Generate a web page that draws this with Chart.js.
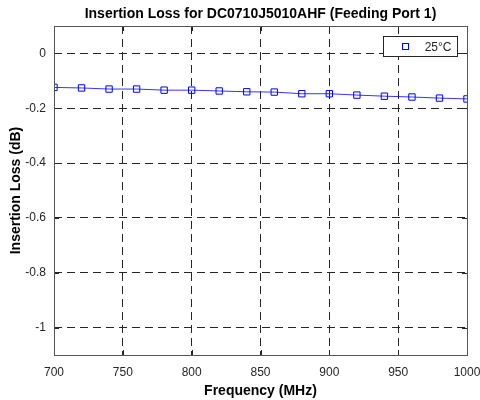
<!DOCTYPE html>
<html>
<head>
<meta charset="utf-8">
<script src="https://cdn.jsdelivr.net/npm/chart.js@4"></script>
<style>
  html, body { margin: 0; padding: 0; background: #fff; }
  #wrap { width: 480px; height: 400px; }
</style>
</head>
<body>
<div id="wrap"><canvas id="chart" width="480" height="400"></canvas></div>
<script>
// data
const freqs = [700, 720, 740, 760, 780, 800, 820, 840, 860, 880, 900, 920, 940, 960, 980, 1000];
const loss25 = [-0.124, -0.126, -0.130, -0.130, -0.134, -0.134, -0.137, -0.140, -0.141, -0.147, -0.147, -0.152, -0.156, -0.159, -0.163, -0.166];
const xTicks = [700, 750, 800, 850, 900, 950, 1000];
const yTicks = [0, -0.2, -0.4, -0.6, -0.8, -1];
const chartTitle = "Insertion Loss for DC0710J5010AHF (Feeding Port 1)";

const FONT = "'Liberation Sans', Arial, sans-serif";
const TEXT = "#262626";

// box around the plot + inward tick marks + legend box + title (MATLAB look)
const boxPlugin = {
  id: "box",
  afterDatasetsDraw(chart) {
    const { ctx, chartArea: a, scales } = chart;
    ctx.save();
    ctx.strokeStyle = "#262626";
    ctx.lineWidth = 1;
    ctx.setLineDash([]);
    ctx.beginPath();
    scales.x.ticks.forEach((t) => {
      const px = Math.round(scales.x.getPixelForValue(t.value)) + 0.5;
      ctx.moveTo(px, a.bottom); ctx.lineTo(px, a.bottom - 5);
      ctx.moveTo(px, a.top); ctx.lineTo(px, a.top + 5);
    });
    scales.y.ticks.forEach((t) => {
      const py = Math.round(scales.y.getPixelForValue(t.value)) + 0.5;
      ctx.moveTo(a.left, py); ctx.lineTo(a.left + 5, py);
      ctx.moveTo(a.right, py); ctx.lineTo(a.right - 5, py);
    });
    ctx.stroke();
    ctx.strokeStyle = "#555";
    ctx.strokeRect(Math.round(a.left) + 0.5, Math.round(a.top) + 0.5,
      Math.round(a.right - a.left), Math.round(a.bottom - a.top));

    // legend
    const ds = chart.data.datasets[0];
    const w = 74, h = 20;
    const lx = Math.round(a.right) - 10 - w + 0.5, ly = Math.round(a.top) + 10 + 0.5;
    ctx.fillStyle = "#fff";
    ctx.fillRect(lx, ly, w, h);
    ctx.strokeStyle = "#262626";
    ctx.strokeRect(lx, ly, w, h);
    ctx.strokeStyle = ds.borderColor;
    ctx.strokeRect(lx + 19, ly + 7, 6, 6);
    ctx.fillStyle = TEXT;
    ctx.font = "12px " + FONT;
    ctx.textAlign = "right";
    ctx.textBaseline = "middle";
    ctx.fillText(ds.label, lx + w - 6, ly + h / 2 + 1);

    // title centred over the plot box
    ctx.fillStyle = "#000";
    ctx.font = "bold 14px " + FONT;
    ctx.textAlign = "center";
    ctx.fillText(chartTitle, (a.left + a.right) / 2, 14);
    ctx.restore();
  }
};

new Chart(document.getElementById("chart"), {
  type: "line",
  data: {
    datasets: [{
      label: "25°C",
      data: freqs.map((f, i) => ({ x: f, y: loss25[i] })),
      borderColor: "#0000ff",
      backgroundColor: "rgba(0,0,0,0)",
      borderWidth: 0.8,
      pointStyle: "rect",
      pointRadius: 4.5,
      pointBorderWidth: 1,
      pointBorderColor: "#0000ff",
      pointBackgroundColor: "rgba(0,0,0,0)",
      tension: 0
    }]
  },
  options: {
    responsive: false,
    animation: false,
    layout: { padding: { left: 0, right: 0, top: 26, bottom: 0 } },
    plugins: {
      legend: { display: false },
      tooltip: { enabled: false },
      title: { display: false }
    },
    scales: {
      x: {
        type: "linear",
        min: 700,
        max: 1000,
        afterBuildTicks: (s) => { s.ticks = xTicks.map((v) => ({ value: v })); },
        afterFit: (s) => { s.height = 45; s.paddingLeft = 0; s.paddingRight = 13; },
        grid: { color: "#262626", drawTicks: false },
        border: { display: false, dash: [8, 5] },
        ticks: { color: TEXT, padding: 10, maxRotation: 0, font: { family: FONT, size: 12 }, callback: (v) => String(v) },
        title: {
          display: true,
          text: "Frequency (MHz)",
          color: "#000",
          font: { family: FONT, size: 14, weight: "bold" },
          padding: { top: 3, bottom: 0 }
        }
      },
      y: {
        type: "linear",
        min: -1.1,
        max: 0.1,
        afterBuildTicks: (s) => { s.ticks = yTicks.map((v) => ({ value: v })); },
        afterFit: (s) => { s.width = 54; },
        grid: { color: "#262626", drawTicks: false },
        border: { display: false, dash: [8, 5] },
        ticks: { color: TEXT, padding: 8, font: { family: FONT, size: 12 }, callback: (v) => String(Math.round(v * 10) / 10) },
        title: {
          display: true,
          text: "Insertion Loss (dB)",
          color: "#000",
          font: { family: FONT, size: 14, weight: "bold" },
          padding: { top: 8, bottom: 0 }
        }
      }
    }
  },
  plugins: [boxPlugin]
});
</script>
</body>
</html>
